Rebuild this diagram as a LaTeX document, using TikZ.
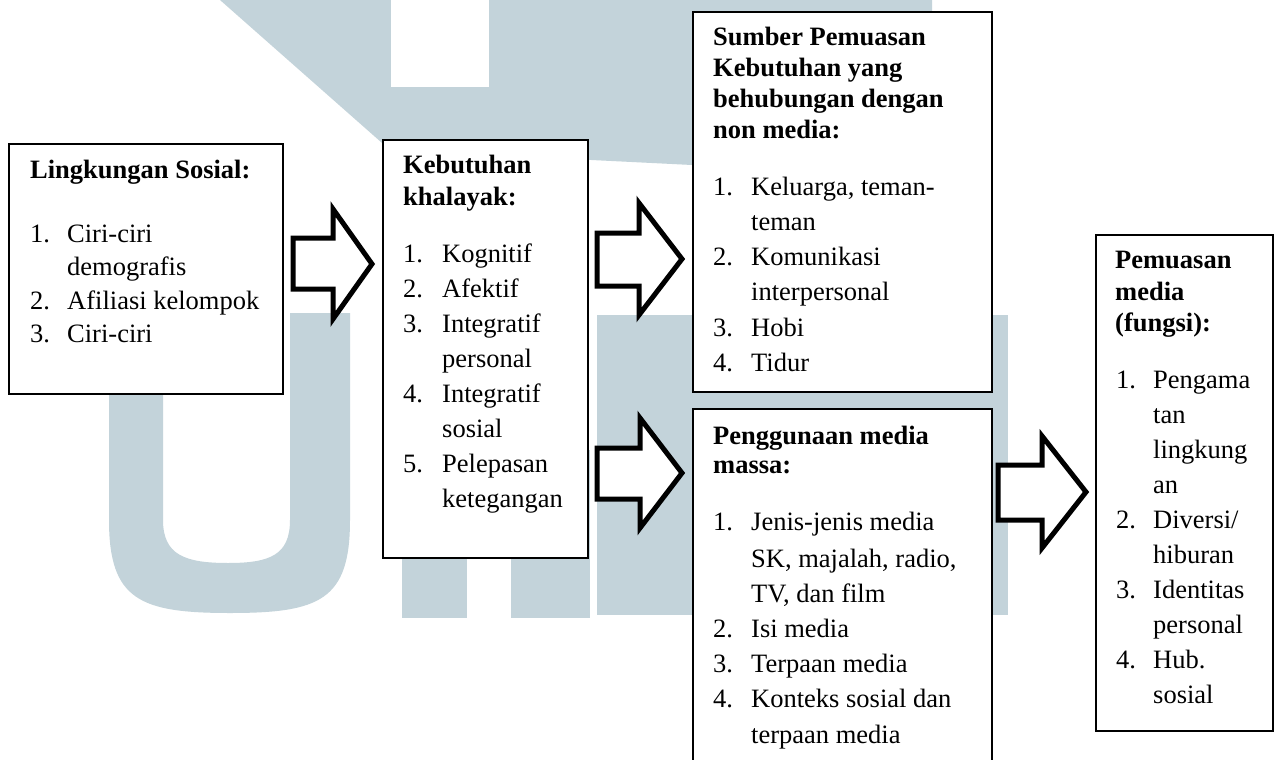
\documentclass[tikz,border=0pt]{standalone}
\usepackage{fontspec}
\setmainfont{Liberation Serif}
\definecolor{wm}{RGB}{195,211,218}
\tikzset{
  box/.style={draw=black, line width=2pt, fill=white, inner sep=0pt, anchor=north west},
  blockarrow/.style={draw=black, line width=5pt, fill=white, line join=miter, miter limit=10},
  ttl/.style={anchor=base west, inner sep=0pt, font=\fontsize{26.5}{32}\selectfont\bfseries},
  itm/.style={anchor=base west, inner sep=0pt, font=\fontsize{26.5}{34}\selectfont},
}
\newcommand\TL[4]{\node[ttl] (#1) at (#2,#3) {#4};}
\newcommand\NUM[4]{\node[itm] (#1) at (#2,#3) {#4};}
\begin{document}
\begin{tikzpicture}[x=1pt,y=-1pt]
\useasboundingbox (0,0) rectangle (1277,760);
\clip (0,0) rectangle (1277,760);
\fill[white] (0,0) rectangle (1277,760);
% watermark
\fill[wm] (220,0) -- (932,0) -- (932,165) -- (692,165) -- (390,150) -- cycle;
\fill[white] (391,0) rectangle (489,87);
\fill[wm] (109,313) -- (109,520) .. controls (109,600) and (140,613) .. (230,613)
  .. controls (320,613) and (350,600) .. (350,520) -- (350,313) -- (290,313) -- (290,520)
  .. controls (290,555) and (270,563) .. (228,563) .. controls (185,563) and (163,555) .. (163,520)
  -- (163,313) -- cycle;
\fill[wm] (597,315) rectangle (1008,410);
\fill[wm] (597,315) rectangle (692,615);
\fill[wm] (948,315) rectangle (1008,615);
\fill[wm] (402,450) rectangle (467,618);
\fill[wm] (511,450) rectangle (590,618);
% boxes
\node[box, minimum width=274pt, minimum height=250pt] (A) at (8,143) {};
\node[box, minimum width=205pt, minimum height=418pt] (B) at (382,139) {};
\node[box, minimum width=299pt, minimum height=380pt] (C) at (692,11) {};
\node[box, minimum width=299pt, minimum height=380pt] (D) at (692,408) {};
\node[box, minimum width=177pt, minimum height=496pt] (E) at (1095,234) {};
% block arrows
\draw[blockarrow] (293,238) -- (333,238) -- (333,209) -- (372,264) -- (333,319) -- (333,289) -- (293,289) -- cycle;
\draw[blockarrow] (597,233) -- (639,233) -- (639,203) -- (682,259) -- (639,315) -- (639,286) -- (597,286) -- cycle;
\draw[blockarrow] (597,448) -- (640,448) -- (640,418) -- (682,473) -- (640,528) -- (640,499) -- (597,499) -- cycle;
\draw[blockarrow] (998,465) -- (1042,465) -- (1042,436) -- (1086,492) -- (1042,548) -- (1042,520) -- (998,520) -- cycle;
% box A text
\TL{a0}{30}{178}{Lingkungan Sosial:}
\NUM{a1n}{30}{242}{1.}\NUM{a1}{67}{242}{Ciri-ciri}
\NUM{a1b}{67}{275.5}{demografis}
\NUM{a2n}{30}{309}{2.}\NUM{a2}{67}{309}{Afiliasi kelompok}
\NUM{a3n}{30}{342.5}{3.}\NUM{a3}{67}{342.5}{Ciri-ciri}
% box B text
\TL{b0}{403}{173}{Kebutuhan}
\TL{b0b}{403}{205}{khalayak:}
\NUM{b1n}{403}{262}{1.}\NUM{b1}{442}{262}{Kognitif}
\NUM{b2n}{403}{297}{2.}\NUM{b2}{442}{297}{Afektif}
\NUM{b3n}{403}{332}{3.}\NUM{b3}{442}{332}{Integratif}
\NUM{b3b}{442}{367}{personal}
\NUM{b4n}{403}{402}{4.}\NUM{b4}{442}{402}{Integratif}
\NUM{b4b}{442}{437}{sosial}
\NUM{b5n}{403}{472}{5.}\NUM{b5}{442}{472}{Pelepasan}
\NUM{b5b}{442}{507}{ketegangan}
% box C text
\TL{c0}{713}{46}{Sumber Pemuasan}
\TL{c0b}{713}{77}{Kebutuhan yang}
\TL{c0c}{713}{107.5}{behubungan dengan}
\TL{c0d}{713}{138}{non media:}
\NUM{c1n}{713}{195}{1.}\NUM{c1}{751}{195}{Keluarga, teman-}
\NUM{c1b}{751}{230}{teman}
\NUM{c2n}{713}{265}{2.}\NUM{c2}{751}{265}{Komunikasi}
\NUM{c2b}{751}{300}{interpersonal}
\NUM{c3n}{713}{336}{3.}\NUM{c3}{751}{336}{Hobi}
\NUM{c4n}{713}{371}{4.}\NUM{c4}{751}{371}{Tidur}
% box D text
\TL{d0}{713}{444}{Penggunaan media}
\TL{d0b}{713}{473}{massa:}
\NUM{d1n}{713}{530}{1.}\NUM{d1}{751}{530}{Jenis-jenis media}
\NUM{d1b}{751}{567}{SK, majalah, radio,}
\NUM{d1c}{751}{602}{TV, dan film}
\NUM{d2n}{713}{637}{2.}\NUM{d2}{751}{637}{Isi media}
\NUM{d3n}{713}{672}{3.}\NUM{d3}{751}{672}{Terpaan media}
\NUM{d4n}{713}{707}{4.}\NUM{d4}{751}{707}{Konteks sosial dan}
\NUM{d4b}{751}{743}{terpaan media}
% box E text
\TL{e0}{1115}{268}{Pemuasan}
\TL{e0b}{1115}{300}{media}
\TL{e0c}{1115}{331}{(fungsi):}
\NUM{e1n}{1116}{388}{1.}\NUM{e1}{1153}{388}{Pengama}
\NUM{e1b}{1153}{423}{tan}
\NUM{e1c}{1153}{458}{lingkung}
\NUM{e1d}{1153}{493}{an}
\NUM{e2n}{1116}{528}{2.}\NUM{e2}{1153}{528}{Diversi/}
\NUM{e2b}{1153}{563}{hiburan}
\NUM{e3n}{1116}{598}{3.}\NUM{e3}{1153}{598}{Identitas}
\NUM{e3b}{1153}{633}{personal}
\NUM{e4n}{1116}{668}{4.}\NUM{e4}{1153}{668}{Hub.}
\NUM{e4b}{1153}{703}{sosial}
\end{tikzpicture}
\end{document}
